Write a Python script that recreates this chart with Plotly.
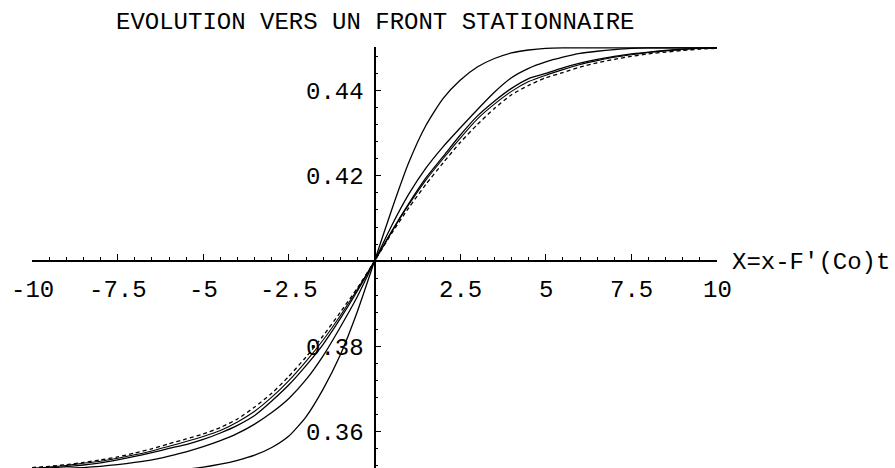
import plotly.graph_objects as go

# Abscissa X = x - F'(Co) t, sampled every 0.5
X = [i * 0.5 - 10 for i in range(41)]

# Concentration profiles, from the steepest (early) to the stationary front
C_T1 = [0.3500, 0.3500, 0.3500, 0.3501, 0.3501, 0.3502, 0.3503, 0.3505, 0.3508, 0.3512,
        0.3517, 0.3524, 0.3533, 0.3545, 0.3563, 0.3590, 0.3635, 0.3700, 0.3780, 0.3882,
        0.4000,
        0.4120, 0.4231, 0.4318, 0.4381, 0.4424, 0.4455, 0.4475, 0.4488, 0.4495, 0.4499,
        0.4500, 0.4500, 0.4500, 0.4500, 0.4500, 0.4500, 0.4500, 0.4500, 0.4500, 0.4500]
C_T2 = [0.3511, 0.3512, 0.3514, 0.3516, 0.3519, 0.3523, 0.3528, 0.3534, 0.3543, 0.3553,
        0.3565, 0.3579, 0.3596, 0.3618, 0.3645, 0.3678, 0.3722, 0.3778, 0.3845, 0.3917,
        0.4000,
        0.4083, 0.4157, 0.4218, 0.4268, 0.4312, 0.4355, 0.4396, 0.4430, 0.4452, 0.4467,
        0.4478, 0.4487, 0.4492, 0.4496, 0.4499, 0.4500, 0.4500, 0.4500, 0.4500, 0.4500]
C_T3 = [0.3512, 0.3515, 0.3518, 0.3522, 0.3527, 0.3534, 0.3542, 0.3551, 0.3561, 0.3570,
        0.3582, 0.3597, 0.3615, 0.3638, 0.3672, 0.3710, 0.3755, 0.3805, 0.3865, 0.3930,
        0.4000,
        0.4070, 0.4135, 0.4195, 0.4245, 0.4295, 0.4340, 0.4375, 0.4405, 0.4428, 0.4440,
        0.4453, 0.4464, 0.4473, 0.4480, 0.4486, 0.4490, 0.4494, 0.4497, 0.4499, 0.4500]
C_T4 = [0.3514, 0.3517, 0.3521, 0.3526, 0.3531, 0.3538, 0.3546, 0.3555, 0.3566, 0.3577,
        0.3589, 0.3603, 0.3623, 0.3648, 0.3681, 0.3720, 0.3765, 0.3815, 0.3872, 0.3934,
        0.4000,
        0.4068, 0.4132, 0.4190, 0.4240, 0.4288, 0.4333, 0.4368, 0.4398, 0.4421, 0.4436,
        0.4449, 0.4461, 0.4470, 0.4478, 0.4484, 0.4489, 0.4493, 0.4496, 0.4499, 0.4500]
C_STAT = [0.3516, 0.3519, 0.3523, 0.3528, 0.3534, 0.3541, 0.3550, 0.3560, 0.3572, 0.3583,
          0.3595, 0.3610, 0.3630, 0.3658, 0.3690, 0.3730, 0.3775, 0.3825, 0.3880, 0.3937,
          0.4000,
          0.4065, 0.4125, 0.4180, 0.4230, 0.4278, 0.4320, 0.4358, 0.4390, 0.4412, 0.4430,
          0.4442, 0.4455, 0.4465, 0.4473, 0.4480, 0.4486, 0.4490, 0.4494, 0.4497, 0.4499]

X_TICKS = [-10, -7.5, -5, -2.5, 2.5, 5, 7.5, 10]
X_TICK_TEXT = ["-10", "-7.5", "-5", "-2.5", "2.5", "5", "7.5", "10"]
Y_TICKS = [0.36, 0.38, 0.42, 0.44]
Y_TICK_TEXT = ["0.36", "0.38", "0.42", "0.44"]

TITLE = "EVOLUTION VERS UN FRONT STATIONNAIRE"
X_LABEL = "X=x-F'(Co)t"

X_RANGE = [-10, 10]
Y_RANGE = [0.3515, 0.4502]
Y_CROSS = 0.40

FONT = "Liberation Mono, Courier New, monospace"
FS = 24

fig = go.Figure()
profiles = [
    (C_T1, dict(color="black", width=1.3)),
    (C_T2, dict(color="black", width=1.3)),
    (C_T3, dict(color="black", width=1.3)),
    (C_T4, dict(color="black", width=1.1)),
    (C_STAT, dict(color="black", width=1.3, dash="4px,3px")),
]
for ys, ln in profiles:
    fig.add_trace(go.Scatter(x=X, y=ys, mode="lines", line=dict(shape="spline", smoothing=0.6, **ln),
                             showlegend=False, hoverinfo="skip"))

x_pos = (Y_CROSS - Y_RANGE[0]) / (Y_RANGE[1] - Y_RANGE[0])

fig.update_layout(
    width=895, height=468,
    margin=dict(l=32, r=178, t=47, b=0),
    paper_bgcolor="white", plot_bgcolor="white",
    font=dict(family=FONT, size=FS, color="black"),
    xaxis=dict(range=X_RANGE, anchor="free", position=x_pos,
               showgrid=False, zeroline=False, showline=True, linecolor="black", linewidth=1.5,
               tickmode="array", tickvals=X_TICKS, ticks="inside", ticklen=6, tickwidth=1.2,
               tickcolor="black", showticklabels=False,
               minor=dict(tickmode="linear", tick0=0, dtick=0.5, ticks="inside", ticklen=3,
                          tickwidth=1, tickcolor="black")),
    yaxis=dict(range=Y_RANGE, anchor="free", position=0.5,
               showgrid=False, zeroline=False, showline=True, linecolor="black", linewidth=1.5,
               tickmode="array", tickvals=Y_TICKS, ticks="inside", ticklen=6, tickwidth=1.2,
               tickcolor="black", showticklabels=False,
               minor=dict(tickmode="linear", tick0=0.4, dtick=0.004, ticks="inside", ticklen=3,
                          tickwidth=1, tickcolor="black")),
)

annotations = []
for v, t in zip(X_TICKS, X_TICK_TEXT):
    annotations.append(dict(x=v, y=Y_CROSS, xref="x", yref="y", text=t, showarrow=False,
                            xanchor="center", yanchor="middle", yshift=-29,
                            font=dict(family=FONT, size=FS, color="black")))
for v, t in zip(Y_TICKS, Y_TICK_TEXT):
    annotations.append(dict(x=0, y=v, xref="x", yref="y", text=t, showarrow=False,
                            xanchor="right", yanchor="middle", xshift=-9, yshift=-2,
                            font=dict(family=FONT, size=FS, color="black")))
annotations.append(dict(x=X_RANGE[1], y=Y_CROSS, xref="x", yref="y", text=X_LABEL, showarrow=False,
                        xanchor="left", yanchor="middle", xshift=13, yshift=-1,
                        font=dict(family=FONT, size=FS, color="black")))
annotations.append(dict(x=0.5, y=1, xref="paper", yref="paper", text=TITLE, showarrow=False,
                        xanchor="center", yanchor="middle", yshift=25,
                        font=dict(family=FONT, size=FS, color="black")))
fig.update_layout(annotations=annotations)

fig.write_html("out.html")
